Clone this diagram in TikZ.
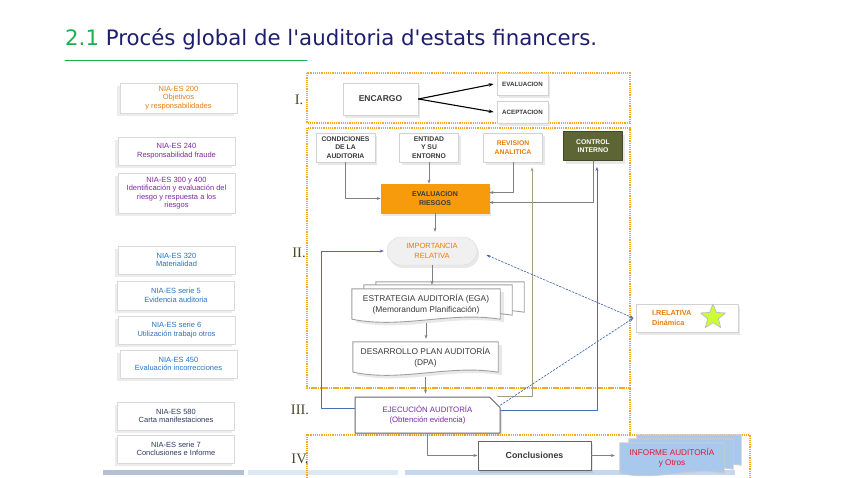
\documentclass[tikz,border=0pt]{standalone}
\usepackage{fontspec}
\setmainfont{Liberation Sans}
\newfontfamily\titlefont{DejaVu Sans}
\newfontfamily\romanfont{Liberation Serif}
\usetikzlibrary{arrows.meta,shapes.geometric,shapes.misc,shadows,backgrounds}

\definecolor{titlegreen}{HTML}{1DAF50}
\definecolor{titlenavy}{HTML}{1E1E6E}
\definecolor{niaorange}{HTML}{E87D0D}
\definecolor{niapurple}{HTML}{7A2A9E}
\definecolor{niablue}{HTML}{2A72C0}
\definecolor{nianavy}{HTML}{2B3A5E}
\definecolor{phaseorange}{HTML}{F7A823}
\definecolor{olivebox}{HTML}{5E6535}
\definecolor{riskorange}{HTML}{F79B0C}
\definecolor{loopblue}{HTML}{4A6DB5}
\definecolor{informeblue}{HTML}{A8C8EE}
\definecolor{informered}{HTML}{E5172F}
\definecolor{starlime}{HTML}{CCFF33}
\definecolor{numeralbrown}{HTML}{4B4528}
\definecolor{textdark}{HTML}{3A3A3A}
\definecolor{returntan}{HTML}{A39E84}
\definecolor{bargray}{HTML}{B5C1D3}
\definecolor{barpale}{HTML}{DDE8F5}
\definecolor{barblue}{HTML}{C5D8EE}

\tikzset{
  softshadow/.style={drop shadow={shadow xshift=2pt, shadow yshift=-3pt, opacity=.18}},
  nia/.style={draw=gray!30, fill=white, minimum width=117pt, minimum height=28pt,
    inner sep=1pt, align=center, font=\fontsize{7.5}{8.4}\selectfont,
    drop shadow={shadow xshift=-3pt, shadow yshift=-3pt, opacity=.15}},
  numeral/.style={font=\romanfont\fontsize{14.5}{14}\selectfont, text=numeralbrown},
  phaseframe/.style={draw=phaseorange, densely dotted, line width=1.2pt},
  stepbox/.style={draw=gray!35, fill=white, line width=0.8pt, align=center, inner sep=1pt,
    font=\bfseries\fontsize{6.8}{8.6}\selectfont, text=textdark,
    minimum width=59pt, minimum height=29pt, softshadow},
  docline/.style={draw=gray!75, line width=0.9pt, fill=white},
  blacklink/.style={draw=black, line width=1.1pt, -{Stealth[length=5pt,width=3.5pt]}},
  graylink/.style={draw=gray, line width=0.7pt, -{Stealth[length=4pt,width=3pt]}},
  bluelink/.style={draw=loopblue, line width=0.7pt, -{Stealth[length=4pt,width=3pt]}},
  bluedash/.style={draw=loopblue, line width=0.7pt, dash pattern=on 2pt off 1.5pt}
}

\begin{document}
\begin{tikzpicture}[x=1pt, y=-1pt, line cap=round, line join=round]
\useasboundingbox (0,0) rectangle (848,477);

% Title
\node[anchor=base west, inner sep=0pt, font=\titlefont\fontsize{21.3}{24}\selectfont] (title) at (65,45)
  {\textcolor{titlegreen}{2.1} \textcolor{titlenavy}{Procés global de l'auditoria d'estats financers.}};
\draw[titlegreen, line width=1pt] (65,60) -- (307,60);

% Standards column
\node[nia, text=niaorange, minimum height=30pt] (nia200) at (178.5,98) {NIA-ES 200\\Objetivos\\y responsabilidades};
\node[nia, text=niapurple] (nia240) at (176.5,151) {NIA-ES 240\\Responsabilidad fraude};
\node[nia, text=niapurple, minimum height=40pt] (nia300) at (176.5,193) {NIA-ES 300 y 400\\Identificación y evaluación del\\riesgo y respuesta a los\\riesgos};
\node[nia, text=niablue] (nia320) at (176.5,260) {NIA-ES 320\\Materialidad};
\node[nia, text=niablue, minimum height=29pt] (nia5) at (176,295.5) {NIA-ES serie 5\\Evidencia auditoria};
\node[nia, text=niablue] (nia6) at (176.5,330) {NIA-ES serie 6\\Utilización trabajo otros};
\node[nia, text=niablue] (nia450) at (178.5,364) {NIA-ES 450\\Evaluación incorrecciones};
\node[nia, text=nianavy] (nia580) at (176,416) {NIA-ES 580\\Carta manifestaciones};
\node[nia, text=nianavy] (nia7) at (176,449) {NIA-ES serie 7\\Conclusiones e Informe};

% Phase numerals
\node[numeral] (numI) at (299,100) {I.};
\node[numeral] (numII) at (299,253) {II.};
\node[numeral] (numIII) at (300,410) {III.};
\node[numeral] (numIV) at (300,459) {IV.};

% Phase I
\node[stepbox, font=\bfseries\fontsize{8.5}{10}\selectfont, minimum width=75pt, minimum height=32pt] (encargo) at (380.5,99) {ENCARGO};
\node[stepbox, font=\bfseries\fontsize{6.2}{7}\selectfont, minimum width=51pt, minimum height=22pt, drop shadow={opacity=0}] (evaluacion) at (522.5,84) {EVALUACION};
\node[stepbox, font=\bfseries\fontsize{6.2}{7}\selectfont, minimum width=51pt, minimum height=22pt, drop shadow={opacity=0}] (aceptacion) at (522.5,112) {ACEPTACION};
\draw[blacklink] (encargo.east) -- ([xshift=-3pt]evaluacion.west);
\draw[blacklink] (encargo.east) -- ([xshift=-3pt]aceptacion.west);

% Phase II: planning
\node[stepbox] (condiciones) at (345.5,147.5) {CONDICIONES\\DE LA\\AUDITORIA};
\node[stepbox] (entidad) at (429,147.5) {ENTIDAD\\Y SU\\ENTORNO};
\node[stepbox, text=niaorange] (revision) at (513,147.5) {REVISION\\ANALITICA};
\node[stepbox, fill=olivebox, draw=olivebox!70!black, text=white] (control) at (593,146) {CONTROL\\INTERNO};
\node[stepbox, fill=riskorange, draw=riskorange, minimum width=108pt, font=\bfseries\fontsize{7}{9.5}\selectfont, drop shadow={opacity=0}] (riesgos) at (435,198.5) {EVALUACION\\RIESGOS};
\node[rounded rectangle, draw=gray!30, fill=gray!12, text=niaorange, align=center,
  font=\fontsize{7.5}{10}\selectfont, minimum width=92pt, minimum height=28pt, inner sep=1pt, softshadow] (importancia) at (432,251) {IMPORTANCIA\\RELATIVA};
\node[minimum width=148pt, minimum height=30pt, align=center, text=textdark,
  font=\fontsize{8.4}{10.5}\selectfont] (estrategia) at (426,304) {ESTRATEGIA AUDITORÍA (EGA)\\(Memorandum Planificación)};
\node[minimum width=145pt, minimum height=30pt, align=center, text=textdark,
  font=\fontsize{8.4}{10.5}\selectfont] (desarrollo) at (425.5,357) {DESARROLLO PLAN AUDITORÍA\\(DPA)};

\draw[graylink] (condiciones.south) |- (riesgos.west);
\draw[graylink] (entidad.south) -- (entidad.south |- riesgos.north);
\draw[graylink] (revision.south) |- ([yshift=6pt]riesgos.east);
\draw[graylink] (control.south) |- ([yshift=-4pt]riesgos.east);
\draw[graylink] (riesgos.south) -- ([yshift=5pt]riesgos.south |- importancia.north);
\draw[graylink] (importancia.south) -- ([yshift=4pt]importancia.south |- estrategia.north);
\draw[graylink] ([yshift=-4pt]estrategia.south) -- ([yshift=3pt]estrategia.south |- desarrollo.north);

% Phase III and IV
\node[chamfered rectangle, chamfered rectangle corners=north east, chamfered rectangle xsep=7pt,
  draw=gray!80!black, line width=1pt, fill=white, minimum width=145pt, minimum height=36pt,
  align=center, text=niapurple, font=\fontsize{7.8}{10.5}\selectfont, softshadow] (ejecucion) at (427.5,415) {EJECUCIÓN AUDITORÍA\\(Obtención evidencia)};
\node[draw=gray!80!black, line width=1pt, fill=white, minimum width=113pt, minimum height=29pt,
  text=textdark, font=\bfseries\fontsize{8.8}{10}\selectfont, softshadow] (conclusiones) at (534.5,455.5) {Conclusiones};
\node[minimum width=104pt, minimum height=30pt, align=center, text=informered,
  font=\fontsize{8.2}{9.5}\selectfont] (informe) at (672,458) {INFORME AUDITORÍA\\y Otros};

\draw[graylink] ([yshift=-5pt]desarrollo.south) -- ([yshift=3pt]desarrollo.south |- ejecucion.north);
\draw[graylink] (ejecucion.south) |- (conclusiones.west);
\draw[graylink] (conclusiones.east) -- ([xshift=-5pt]conclusiones.east -| informe.west);

% Feedback loops
\draw[bluelink] ([yshift=7pt]ejecucion.west) -- ++(-33,0) |- ([xshift=-3pt]importancia.west);
\draw[bluelink, shorten >=6pt] ([yshift=5pt]ejecucion.east) -| ([xshift=4pt]control.south);
\draw[graylink, draw=returntan, shorten >=5pt] ([xshift=70pt]ejecucion.north) -| ([xshift=19pt]revision.south);

% Dynamic materiality
\node[draw=gray!35, line width=1pt, fill=white, minimum width=102pt, minimum height=28pt,
  text width=70pt, align=left, text=niaorange, font=\bfseries\fontsize{7.3}{10}\selectfont, softshadow] (irelativa) at (687,318) {I.RELATIVA\\Dinámica};
\node[star, star points=5, star point ratio=2.3, fill=starlime, draw=gray!50, line width=0.8pt,
  minimum size=26pt, inner sep=0pt] (star) at (713,317) {};
\draw[bluedash, {Stealth[length=4pt,width=3pt]}-{Stealth[length=4pt,width=3pt]}, shorten <=10pt] (importancia.east) -- ([xshift=-2pt]irelativa.west);
\draw[bluedash, -{Stealth[length=4pt,width=3pt]}] ([yshift=10pt]ejecucion.east) -- ([xshift=-2pt]irelativa.west);

\begin{scope}[on background layer]
% Slide bars
\fill[bargray] (103,470) rectangle (244,475);
\fill[barpale] (248,470) rectangle (398,475);
\fill[barblue] (405,470) rectangle (735,475);

% Phase frames
\draw[phaseframe] (307,73) rectangle (630,123);
\draw[phaseframe] (307,128) rectangle (630,388);
\draw[phaseframe] (307,388) -- (630,388) -- (630,435);
\draw[phaseframe] (307,480) -- (307,435) -- (750,435) -- (750,480);

% Document shapes
\foreach \dx/\dy in {24/-7,12/-4}
  \draw[docline] ([shift={(\dx,\dy)}]estrategia.south west) -- ([shift={(\dx,\dy)}]estrategia.north west)
    -- ([shift={(\dx,\dy)}]estrategia.north east) -- ([shift={(\dx,\dy)}]estrategia.south east)
    .. controls +(-50,-8) and +(50,10) .. ([shift={(\dx,\dy)}]estrategia.south west);
\draw[docline, drop shadow={shadow xshift=4pt, shadow yshift=-3pt, opacity=.18}] (estrategia.south west) -- (estrategia.north west) -- (estrategia.north east)
  -- (estrategia.south east) .. controls +(-50,-8) and +(50,10) .. (estrategia.south west);
\draw[docline, drop shadow={shadow xshift=4pt, shadow yshift=-3pt, opacity=.18}] (desarrollo.south west) -- (desarrollo.north west) -- (desarrollo.north east)
  -- (desarrollo.south east) .. controls +(-50,-8) and +(50,10) .. (desarrollo.south west);
\foreach \dx/\dy in {17/-8,9/-4}
  \draw[docline, draw=gray!40, fill=informeblue] ([shift={(\dx,\dy)}]informe.south west) -- ([shift={(\dx,\dy)}]informe.north west)
    -- ([shift={(\dx,\dy)}]informe.north east) -- ([shift={(\dx,\dy)}]informe.south east)
    .. controls +(-35,-6) and +(35,8) .. ([shift={(\dx,\dy)}]informe.south west);
\draw[docline, draw=gray!40, fill=informeblue] (informe.south west) -- (informe.north west) -- (informe.north east)
  -- (informe.south east) .. controls +(-35,-6) and +(35,8) .. (informe.south west);
\end{scope}

\end{tikzpicture}
\end{document}
